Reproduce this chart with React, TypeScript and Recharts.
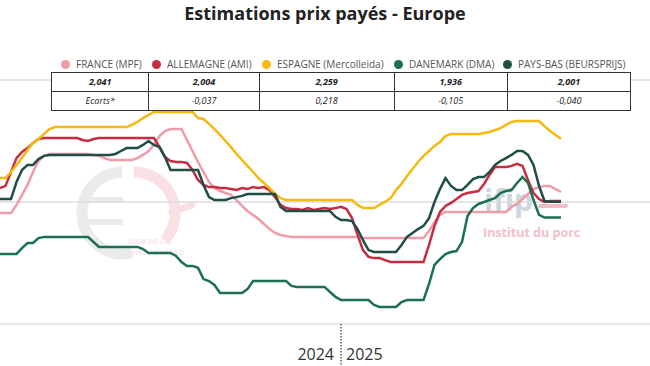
import React from 'react';
import { LineChart, Line, XAxis, YAxis, CartesianGrid, ReferenceLine } from 'recharts';

// weekly prices, €/kg — one value per week, first week = 2023-S43
const france = [
  1.955, 1.955, 1.955, 1.988, 2.029, 2.07, 2.123, 2.168, 2.189, 2.197,
  2.197, 2.197, 2.197, 2.197, 2.197, 2.197, 2.197, 2.193, 2.189, 2.18,
  2.172, 2.172, 2.172, 2.172, 2.172, 2.18, 2.193, 2.209, 2.234, 2.27,
  2.291, 2.299, 2.299, 2.299, 2.254, 2.209, 2.164, 2.123, 2.082, 2.057,
  2.045, 2.037, 2.029, 2.008, 1.984, 1.963, 1.947, 1.93, 1.91, 1.889,
  1.873, 1.865, 1.861, 1.857, 1.857, 1.857, 1.857, 1.857, 1.857, 1.857,
  1.857, 1.857, 1.857, 1.857, 1.857, 1.857, 1.852, 1.852, 1.852, 1.852,
  1.852, 1.852, 1.852, 1.852, 1.852, 1.852, 1.852, 1.852, 1.881, 1.918,
  1.947, 1.959, 1.959, 1.959, 1.959, 1.959, 1.959, 1.959, 1.959, 1.959,
  1.959, 1.959, 1.959, 1.98, 1.992, 2.012, 2.033, 2.053, 2.061, 2.066,
  2.066, 2.053, 2.041,
];
const allemagne = [
  2.057, 2.066, 2.123, 2.18, 2.205, 2.221, 2.242, 2.258, 2.262, 2.262,
  2.262, 2.262, 2.262, 2.262, 2.262, 2.254, 2.25, 2.258, 2.262, 2.262,
  2.262, 2.262, 2.262, 2.262, 2.262, 2.262, 2.262, 2.262, 2.262, 2.225,
  2.184, 2.168, 2.164, 2.164, 2.16, 2.131, 2.09, 2.07, 2.061, 2.061,
  2.057, 2.057, 2.053, 2.049, 2.057, 2.053, 2.061, 2.057, 2.061, 2.049,
  2.02, 1.988, 1.975, 1.971, 1.971, 1.967, 1.975, 1.967, 1.971, 1.975,
  1.971, 1.975, 1.98, 1.971, 1.934, 1.865, 1.803, 1.775, 1.77, 1.77,
  1.762, 1.754, 1.754, 1.754, 1.754, 1.754, 1.754, 1.754, 1.824, 1.902,
  1.959, 1.984, 1.996, 2.012, 2.029, 2.037, 2.041, 2.045, 2.074, 2.111,
  2.143, 2.143, 2.143, 2.148, 2.156, 2.148, 2.09, 2.037, 2.012, 2.0,
  2.004, 2.004, 2.004,
];
const espagne = [
  2.098, 2.098, 2.123, 2.152, 2.18, 2.213, 2.242, 2.258, 2.279, 2.299,
  2.307, 2.307, 2.307, 2.307, 2.307, 2.307, 2.307, 2.307, 2.307, 2.307,
  2.307, 2.307, 2.307, 2.307, 2.316, 2.328, 2.344, 2.357, 2.369, 2.369,
  2.369, 2.369, 2.369, 2.369, 2.369, 2.369, 2.344, 2.34, 2.32, 2.299,
  2.275, 2.25, 2.225, 2.197, 2.172, 2.148, 2.123, 2.098, 2.078, 2.057,
  2.033, 2.016, 2.008, 2.008, 2.008, 2.008, 2.008, 2.008, 2.008, 2.008,
  2.008, 2.008, 2.008, 2.008, 2.008, 1.988, 1.975, 1.975, 1.975, 1.988,
  2.0, 2.016, 2.049, 2.074, 2.107, 2.135, 2.164, 2.189, 2.209, 2.23,
  2.246, 2.27, 2.279, 2.279, 2.279, 2.279, 2.279, 2.279, 2.283, 2.287,
  2.295, 2.303, 2.316, 2.328, 2.332, 2.332, 2.332, 2.332, 2.332, 2.311,
  2.291, 2.275, 2.259,
];
const danemark = [
  1.787, 1.787, 1.787, 1.787, 1.811, 1.832, 1.832, 1.852, 1.857, 1.857,
  1.857, 1.857, 1.857, 1.857, 1.857, 1.857, 1.857, 1.836, 1.816, 1.816,
  1.816, 1.816, 1.816, 1.816, 1.816, 1.816, 1.807, 1.791, 1.791, 1.791,
  1.791, 1.791, 1.779, 1.754, 1.738, 1.738, 1.73, 1.684, 1.676, 1.66,
  1.627, 1.627, 1.627, 1.627, 1.627, 1.643, 1.676, 1.676, 1.676, 1.676,
  1.676, 1.676, 1.676, 1.656, 1.652, 1.652, 1.652, 1.652, 1.652, 1.652,
  1.631, 1.611, 1.598, 1.598, 1.598, 1.598, 1.598, 1.598, 1.578, 1.57,
  1.57, 1.57, 1.57, 1.59, 1.598, 1.598, 1.598, 1.598, 1.664, 1.742,
  1.766, 1.787, 1.795, 1.799, 1.836, 1.943, 1.975, 1.992, 2.0, 2.008,
  2.016, 2.037, 2.045, 2.049, 2.078, 2.102, 2.078, 2.008, 1.947, 1.936,
  1.936, 1.936, 1.936,
];
const paysBas = [
  2.012, 2.012, 2.012, 2.082, 2.131, 2.152, 2.152, 2.176, 2.189, 2.193,
  2.193, 2.193, 2.193, 2.193, 2.193, 2.193, 2.193, 2.193, 2.193, 2.193,
  2.193, 2.197, 2.209, 2.221, 2.221, 2.221, 2.234, 2.25, 2.234, 2.225,
  2.184, 2.131, 2.131, 2.131, 2.131, 2.131, 2.131, 2.07, 2.02, 2.008,
  2.008, 2.008, 2.016, 2.02, 2.025, 2.033, 2.033, 2.033, 2.033, 2.033,
  2.033, 1.98, 1.963, 1.963, 1.963, 1.963, 1.963, 1.963, 1.963, 1.963,
  1.963, 1.939, 1.926, 1.926, 1.922, 1.889, 1.844, 1.803, 1.795, 1.795,
  1.795, 1.795, 1.795, 1.824, 1.857, 1.873, 1.889, 1.902, 1.934, 2.0,
  2.053, 2.098, 2.066, 2.049, 2.049, 2.07, 2.094, 2.102, 2.102, 2.123,
  2.152, 2.168, 2.18, 2.193, 2.209, 2.209, 2.193, 2.152, 2.066, 2.004,
  2.001, 2.001, 2.001,
];

const seriesKeys = ['france', 'allemagne', 'espagne', 'danemark', 'paysBas'];
const seriesNames = ['FRANCE (MPF)', 'ALLEMAGNE (AMI)', 'ESPAGNE (Mercolleida)', 'DANEMARK (DMA)', 'PAYS-BAS (BEURSPRIJS)'];
const seriesColors = ['#f09ca8', '#c62d40', '#f5b90f', '#1b7050', '#1f4e46'];
const latestValues = ['2,041', '2,004', '2,259', '1,936', '2,001'];
const ecarts = ['Ecarts*', '-0,037', '0,218', '-0,105', '-0,040'];
const yearLabels = ['2024', '2025'];
const firstWeek2025 = 62;
const yTicks = [1.5, 2, 2.5];

const data = france.map((v, i) => ({
  week: i,
  france: v,
  allemagne: allemagne[i],
  espagne: espagne[i],
  danemark: danemark[i],
  paysBas: paysBas[i],
}));

const font = '"Open Sans", "Noto Sans", sans-serif';

// legend dot centres and table column widths
const legendX = [66, 157, 267, 399, 508];
const colWidths = [97, 110, 135, 113, 123];

function YearTick(props: any) {
  const { x, y } = props;
  return (
    <g fontFamily={font} fontSize={16} fill="#333">
      <text x={x - 7} y={y + 28} textAnchor="end">{yearLabels[0]}</text>
      <text x={x + 5} y={y + 28} textAnchor="start">{yearLabels[1]}</text>
    </g>
  );
}

function DottedDivider(props: any) {
  const { x1, y1 } = props;
  return <line x1={x1} x2={x1} y1={y1} y2={366} stroke="#333" strokeWidth={1.2} strokeDasharray="1.5 1.5" />;
}

function Watermarks() {
  return (
    <svg width={650} height={366} style={{ position: 'absolute', left: 0, top: 0 }}>
      <g opacity={0.5}>
        <path d="M 122 172 A 41 41 0 1 0 132 253" fill="none" stroke="#d9d9d9" strokeWidth={11} />
        <rect x={83} y={197} width={40} height={6} fill="#d9d9d9" />
        <rect x={83} y={219} width={40} height={6} fill="#d9d9d9" />
        <path d="M 134 172 A 41 41 0 0 1 165 240" fill="none" stroke="#f5c3c9" strokeWidth={11} />
        <path d="M 172 212 L 192 205" stroke="#f5c3c9" strokeWidth={7} strokeLinecap="round" />
        <text x={128} y={244} fontFamily={font} fontSize={7.5} fill="#f0b5bd">MARCHÉ DU</text>
        <text x={128} y={255} fontFamily={font} fontSize={7.5} fill="#f0b5bd">PORC FRANÇAIS</text>
      </g>
      <text x={484} y={211} fontFamily={font} fontSize={30} fontWeight={700} fill="#cdd6e0">ifip</text>
      <rect x={538} y={204} width={30} height={4} rx={2} fill="#f2bcc5" />
      <text x={483} y={237} fontFamily={font} fontSize={12.5} fontWeight={700} fill="#f3c0c8">Institut du porc</text>
    </svg>
  );
}

function LegendTable() {
  const cell = (w: number, bold: boolean, text: string, i: number) => (
    <div
      key={i}
      style={{
        width: w,
        borderLeft: i === 0 ? 'none' : '1px solid #333',
        textAlign: 'center',
        fontWeight: bold ? 700 : 400,
        fontStyle: 'italic',
        lineHeight: '18px',
      }}
    >
      {text}
    </div>
  );
  return (
    <div style={{ position: 'absolute', left: 0, top: 0, width: 650, height: 120, fontFamily: font }}>
      {seriesNames.map((name, i) => (
        <div key={name} style={{ position: 'absolute', left: legendX[i] - 5, top: 57, display: 'flex', alignItems: 'center', fontSize: 10, color: '#555', whiteSpace: 'nowrap' }}>
          <span style={{ width: 9, height: 9, borderRadius: 5, background: seriesColors[i], marginRight: 6 }} />
          {name}
        </div>
      ))}
      <div style={{ position: 'absolute', left: 51, top: 72, width: 578, border: '1px solid #333', background: '#fff', fontSize: 9, color: '#222' }}>
        <div style={{ display: 'flex', borderBottom: '1px solid #333' }}>
          {latestValues.map((v, i) => cell(colWidths[i], true, v, i))}
        </div>
        <div style={{ display: 'flex' }}>
          {ecarts.map((v, i) => cell(colWidths[i], false, v, i))}
        </div>
      </div>
    </div>
  );
}

export default function App() {
  return (
    <div style={{ position: 'absolute', left: 0, top: 0, width: 650, height: 366, background: '#fff', overflow: 'hidden' }}>
      <Watermarks />
      <div style={{ position: 'absolute', left: 0, top: 0 }}>
        <LineChart width={650} height={366} data={data} margin={{ top: 80, right: 0, bottom: 12, left: 0 }}>
          <CartesianGrid vertical={false} stroke="#dcdcdc" strokeWidth={1.5} />
          <XAxis
            type="number"
            dataKey="week"
            domain={[0, 118.18]}
            ticks={[firstWeek2025]}
            axisLine={false}
            tickLine={false}
            tick={<YearTick />}
            height={30}
          />
          <YAxis hide domain={[1.5, 2.5]} ticks={yTicks} />
          <ReferenceLine x={firstWeek2025} shape={<DottedDivider />} />
          {seriesKeys.map((k, i) => (
            <Line
              key={k}
              type="linear"
              dataKey={k}
              stroke={seriesColors[i]}
              strokeWidth={2.5}
              dot={false}
              activeDot={false}
              isAnimationActive={false}
            />
          ))}
        </LineChart>
      </div>
      <div style={{ position: 'absolute', left: 0, top: 0, width: 650, textAlign: 'center', fontFamily: font, fontSize: 18, fontWeight: 700, color: '#222', lineHeight: '26px' }}>
        Estimations prix payés - Europe
      </div>
      <LegendTable />
    </div>
  );
}
